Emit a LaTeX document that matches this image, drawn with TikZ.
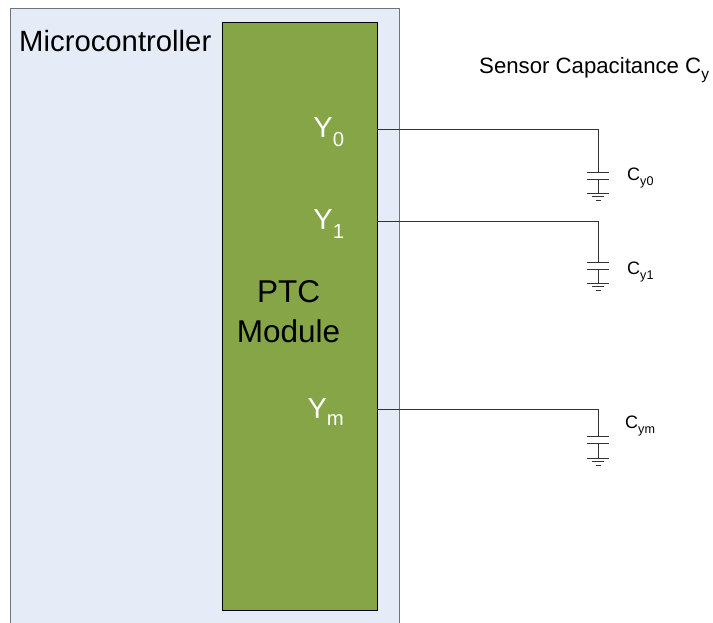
\documentclass[tikz,border=0pt]{standalone}
\usepackage{fontspec}
\setmainfont{Liberation Sans}
\usetikzlibrary{positioning}
\definecolor{mcublue}{HTML}{E6ECF7}
\definecolor{ptcgreen}{HTML}{85A546}
\definecolor{mcuedge}{HTML}{70757C}
\newcommand{\lowsub}[1]{\raisebox{-0.14em}{\textsubscript{#1}}}
\begin{document}
\begin{tikzpicture}[
  x=1pt, y=-1pt,
  mcubox/.style={rectangle, draw=mcuedge, line width=1.3pt, fill=mcublue, inner sep=0pt, anchor=north west, minimum width=389pt, minimum height=640pt},
  ptcbox/.style={rectangle, draw=black, line width=1.1pt, fill=ptcgreen, inner sep=0pt, anchor=north west, minimum width=155pt, minimum height=588.5pt},
  pinlabel/.style={text=white, font=\fontsize{29}{29}\selectfont, inner sep=0pt},
  biglabel/.style={font=\fontsize{29.3}{34}\selectfont, inner sep=0pt, align=center},
  caplabel/.style={font=\fontsize{18}{18}\selectfont, inner sep=0pt, anchor=west},
  wire/.style={draw=black!80, line width=0.9pt}]
\useasboundingbox (0,0) rectangle (713,622);
\clip (0,0) rectangle (713,622);
\fill[white] (0,0) rectangle (713,622);
\node[mcubox] (mcu) at (10,8) {};
\node[ptcbox] (ptc) at (222,21.5) {};
\node[biglabel, anchor=west] (mcutitle) at (19,41) {Microcontroller};
\node[biglabel, font=\fontsize{31.5}{40}\selectfont] (ptcname) at (288.5,312) {PTC\\Module};
\node[font=\fontsize{22.2}{23}\selectfont, inner sep=0pt, anchor=west] (sensetitle) at (479,70) {Sensor Capacitance C\lowsub{y}};
% pins on the module
\node[pinlabel] (y0) at (329,132) {Y\lowsub{0}};
\node[pinlabel] (y1) at (329,224) {Y\lowsub{1}};
\node[pinlabel] (ym) at (326,412) {Y\lowsub{m}};
% capacitor legs: name/pin height/top plate/bottom plate/ground/label pos/label
\foreach \n/\yw/\ya/\yb/\yg/\lx/\ly/\txt in {0/129/172/179/193/627/178/y0,1/221/262/269/283/627/272/y1,m/409/436/443/458/625/426/ym} {
  \coordinate (p\n) at (377,\yw);
  \coordinate (top\n) at (598,\ya);
  \coordinate (bot\n) at (598,\yb);
  \coordinate (gnd\n) at (598,\yg);
  \draw[wire] (p\n) -| (top\n);
  \draw[wire] (bot\n) -- (gnd\n);
  \draw[wire] ([xshift=-11pt]top\n) -- ([xshift=11pt]top\n);
  \draw[wire] ([xshift=-11pt]bot\n) -- ([xshift=11pt]bot\n);
  \draw[wire] ([xshift=-11pt]gnd\n) -- ([xshift=11pt]gnd\n);
  \draw[wire] ([xshift=-6pt,yshift=-3.5pt]gnd\n) -- ([xshift=6pt,yshift=-3.5pt]gnd\n);
  \draw[wire] ([xshift=-2.5pt,yshift=-7pt]gnd\n) -- ([xshift=2.5pt,yshift=-7pt]gnd\n);
  \node[caplabel] (c\n) at (\lx,\ly) {C\lowsub{\txt}};
}
\end{tikzpicture}
\end{document}
